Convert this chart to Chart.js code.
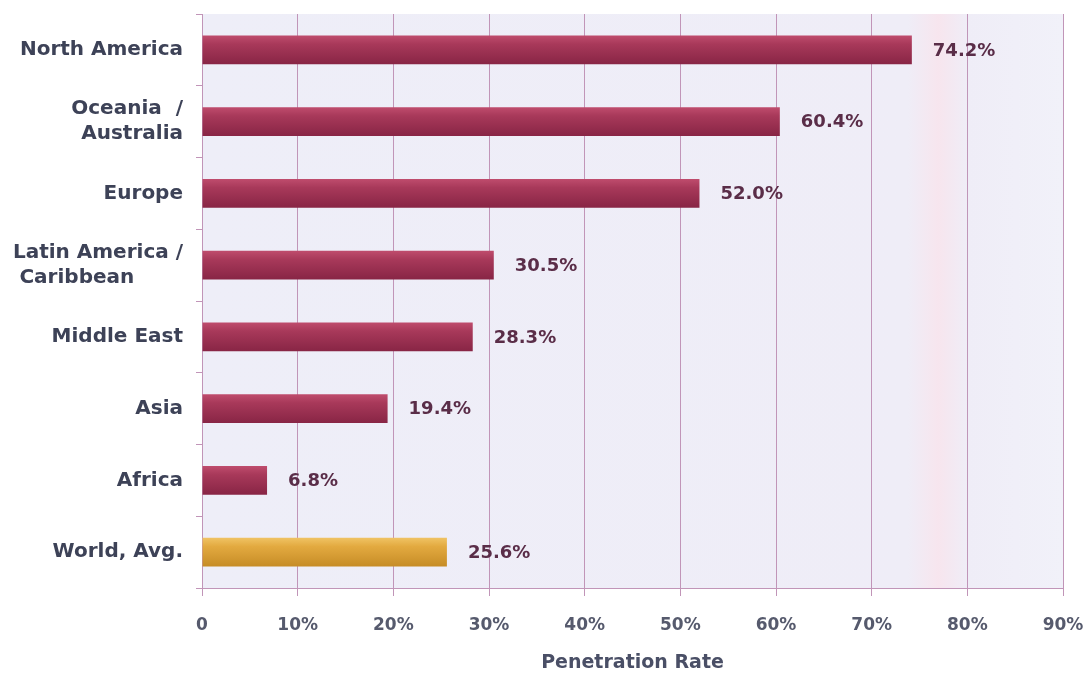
<!DOCTYPE html>
<html>
<head>
<meta charset="utf-8">
<script src="https://cdn.jsdelivr.net/npm/chart.js@4"></script>
<style>
    html, body { margin: 0; padding: 0; background: #ffffff; }
    #wrap { width: 1086px; height: 675px; }
</style>
</head>
<body>
<div id="wrap"><canvas id="rateChart" width="1086" height="675"></canvas></div>
<script>
// Internet penetration by world region
const regions = [
    ['North America'],
    ['Oceania  /', 'Australia'],
    ['Europe'],
    ['Latin America /', 'Caribbean       '],
    ['Middle East'],
    ['Asia'],
    ['Africa'],
    ['World, Avg.']
];
const rates = [74.2, 60.4, 52.0, 30.5, 28.3, 19.4, 6.8, 25.6];
const xTicks = [0, 10, 20, 30, 40, 50, 60, 70, 80, 90];

const FONT = "'DejaVu Sans', Verdana, sans-serif";
const GRID = '#c195b8';

// vertical shading for each bar, lighter on top
function barFill(ctx) {
    const chart = ctx.chart;
    const ys = chart.scales.y;
    const isWorld = ctx.dataIndex === rates.length - 1;
    const flat = isWorld ? '#dba23a' : '#a2304f';
    if (!ys || !chart.chartArea) return flat;
    const mid = ys.getPixelForValue(ctx.dataIndex);
    const half = (ys.height / regions.length) * 0.4 / 2;
    const g = chart.ctx.createLinearGradient(0, mid - half, 0, mid + half);
    if (isWorld) {
        g.addColorStop(0, '#f0c364');
        g.addColorStop(0.3, '#e3aa40');
        g.addColorStop(1, '#c68c26');
    } else {
        g.addColorStop(0, '#bf4c6d');
        g.addColorStop(0.3, '#a8395a');
        g.addColorStop(1, '#882545');
    }
    return g;
}

// plot area background
const plotBackground = {
    id: 'plotBackground',
    beforeDraw(chart) {
        const { ctx, chartArea: a } = chart;
        const g = ctx.createLinearGradient(a.left, 0, a.right, 0);
        g.addColorStop(0, '#eeeef8');
        g.addColorStop(0.82, '#efedf7');
        g.addColorStop(0.855, '#f7e5ee');
        g.addColorStop(0.89, '#efedf7');
        g.addColorStop(1, '#f1f1f9');
        ctx.save();
        ctx.fillStyle = g;
        ctx.fillRect(a.left, a.top, a.right - a.left, a.bottom - a.top);
        ctx.restore();
    }
};

// value text to the right of each bar
const valueLabels = {
    id: 'valueLabels',
    afterDatasetsDraw(chart) {
        const { ctx } = chart;
        const meta = chart.getDatasetMeta(0);
        ctx.save();
        ctx.font = "bold 18px " + FONT;
        ctx.fillStyle = '#5a2d48';
        ctx.textAlign = 'left';
        ctx.textBaseline = 'middle';
        meta.data.forEach((bar, i) => {
            ctx.fillText(rates[i].toFixed(1) + '%', bar.x + 21, bar.y + 1);
        });
        ctx.restore();
    }
};

const chart = new Chart(document.getElementById('rateChart').getContext('2d'), {
    type: 'bar',
    data: {
        labels: regions,
        datasets: [{
            data: rates,
            backgroundColor: barFill,
            borderWidth: 0,
            barPercentage: 0.4,
            categoryPercentage: 1
        }]
    },
    options: {
        indexAxis: 'y',
        responsive: false,
        animation: false,
        layout: { padding: { top: 14, right: 23, bottom: 0, left: 0 } },
        plugins: {
            legend: { display: false },
            tooltip: { enabled: false }
        },
        scales: {
            x: {
                min: 0,
                max: 90,
                afterBuildTicks: (s) => { s.ticks = xTicks.map(v => ({ value: v })); },
                afterFit: (s) => {
                    s.height = 87;
                    s.paddingLeft = 0;
                    s.paddingRight = 0;
                },
                grid: { color: GRID, tickColor: GRID, tickLength: 8, lineWidth: 1 },
                border: { color: GRID },
                ticks: {
                    padding: 19,
                    color: '#565a6d',
                    font: { family: FONT, size: 17, weight: 'bold' },
                    callback: (v) => v === 0 ? '0' : v + '%'
                },
                title: {
                    display: true,
                    text: 'Penetration Rate',
                    color: '#4a4f66',
                    padding: { top: 0, bottom: 1 },
                    font: { family: FONT, size: 19, weight: 'bold' }
                }
            },
            y: {
                afterFit: (s) => {
                    s.width = 202;
                    s.paddingTop = 0;
                    s.paddingBottom = 0;
                },
                grid: { drawOnChartArea: false, color: GRID, tickColor: GRID, tickLength: 6, offset: true },
                border: { color: GRID },
                ticks: {
                    padding: 13,
                    color: '#3d4257',
                    font: { family: FONT, size: 20, weight: 'bold', lineHeight: 1.25 }
                }
            }
        }
    },
    plugins: [plotBackground, valueLabels]
});
</script>
</body>
</html>
